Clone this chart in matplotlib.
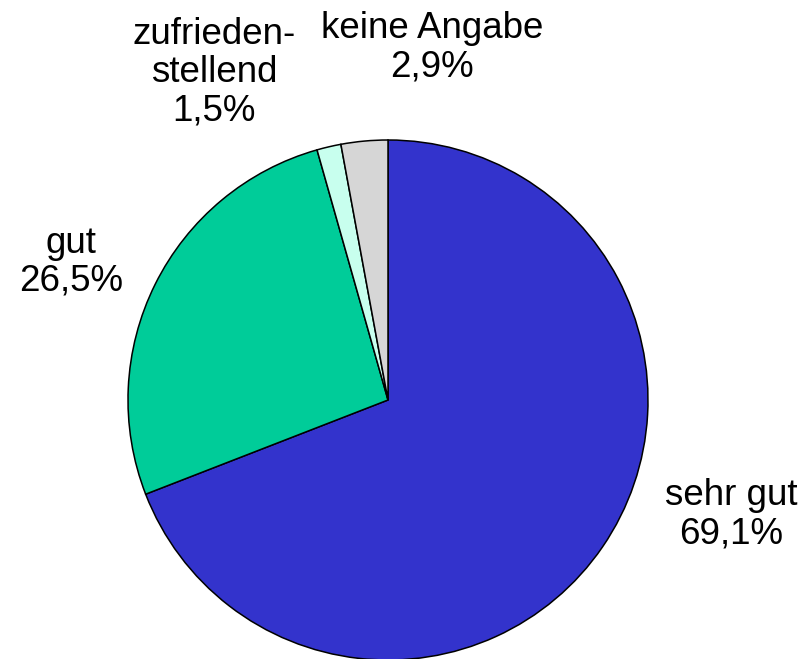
import matplotlib
matplotlib.use('Agg')
import matplotlib.pyplot as plt

labels = ['sehr gut', 'gut', 'zufrieden-\nstellend', 'keine Angabe']
values = [69.1, 26.5, 1.5, 2.9]
colors = ['#3333CC', '#00CC99', '#C8FFEE', '#D6D6D6']
# label centres in data coords (radius = 1)
label_pos = [(1.32, -0.44), (-1.22, 0.53), (-0.67, 1.26), (0.17, 1.355)]

plt.rcParams['font.family'] = ['Liberation Sans', 'DejaVu Sans']

fig = plt.figure(figsize=(8.01, 6.59), dpi=100)
ax = fig.add_axes([128 / 801, -1 / 659, 520 / 801, 520 / 659])
ax.pie(values, colors=colors, startangle=90, counterclock=False,
       wedgeprops=dict(edgecolor='black', linewidth=1.1))
ax.set_xlim(-1, 1)
ax.set_ylim(-1, 1)
ax.set_aspect('equal')
ax.axis('off')

for lab, v, (x, y) in zip(labels, values, label_pos):
    txt = lab + '\n' + ('%.1f%%' % v).replace('.', ',')
    ax.text(x, y, txt, ha='center', va='center', fontsize=26.5,
            linespacing=1.12, clip_on=False)

fig.savefig('out.png', dpi=100)
